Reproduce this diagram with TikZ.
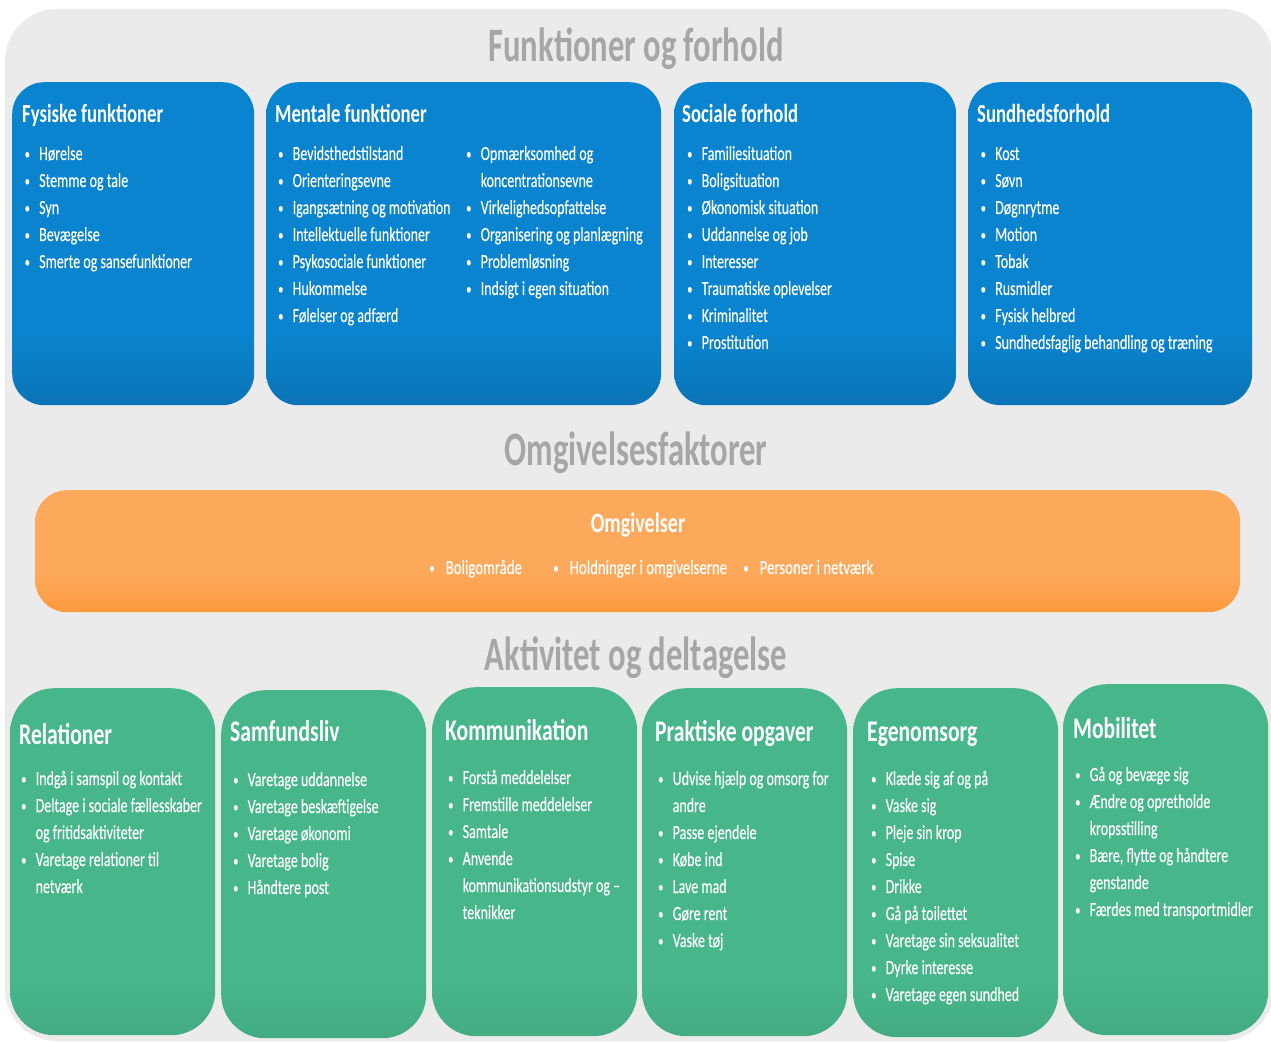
\documentclass[tikz,border=0pt]{standalone}
\usepackage{fontspec}
\setmainfont{Carlito}[FakeStretch=0.72]
\newfontfamily\titlefont{Carlito}[FakeStretch=0.68]
\newfontfamily\itemfont{Carlito}[FakeStretch=0.70, FakeBold=0.25]
\newfontfamily\oitemfont{Carlito}[FakeStretch=0.74, FakeBold=0.2]
\usepackage{array}
\definecolor{bgc}{HTML}{EBEBEB}
\definecolor{ttl}{HTML}{A6A6A6}
\definecolor{bluetop}{HTML}{0A84CE}
\definecolor{bluebot}{HTML}{0A4F80}
\definecolor{ortop}{HTML}{FDA95C}
\definecolor{orbot}{HTML}{FE8410}
\definecolor{grtop}{HTML}{47B68A}
\definecolor{grbot}{HTML}{388A67}
\pgfdeclareverticalshading{blueV}{100bp}{color(0bp)=(bluebot); color(36bp)=(bluetop); color(100bp)=(bluetop)}
\pgfdeclareverticalshading{orV}{100bp}{color(0bp)=(orbot); color(42bp)=(ortop); color(100bp)=(ortop)}
\pgfdeclareverticalshading{grV}{100bp}{color(0bp)=(grbot); color(33bp)=(grtop); color(100bp)=(grtop)}
\newcommand\bl{\raisebox{1pt}{\scalebox{0.75}{•}}}
\newcommand\itemsenv[1]{\begin{tabular}[t]{@{}p{14.5pt}@{}l@{}}#1\end{tabular}}
\begin{document}
\begin{tikzpicture}[x=1pt,y=-1pt,
  bigtitle/.style={text=ttl, font=\titlefont\fontsize{48}{52}\selectfont\bfseries, anchor=base, inner sep=0},
  bluebox/.style={shading=blueV, rounded corners=32, minimum width=#1, minimum height=323, anchor=north west, inner sep=0, draw=none},
  greenbox/.style={shading=grV, rounded corners=44, minimum width=205, minimum height=#1, anchor=north west, inner sep=0, draw=none},
  boxtitle/.style={text=white, font=\fontsize{26}{30}\selectfont\bfseries, anchor=base west, inner sep=0},
  gtitle/.style={text=white, font=\fontsize{30}{34}\selectfont\bfseries, anchor=base west, inner sep=0},
  items/.style={text=white, font=\itemfont\fontsize{20}{27}\selectfont, anchor=base west, inner sep=0},
  oitem/.style={text=white, font=\oitemfont\fontsize{20}{22}\selectfont, anchor=base west, inner sep=0}]
\useasboundingbox (0,0) rectangle (1271,1043);
\fill[bgc, rounded corners=52] (5,9) rectangle (1274,1041);

% top section
\node[bigtitle] (t1) at (636,62) {Funktioner og forhold};
\node[bluebox=242] (b1) at (12,82) {};
\node[bluebox=395] (b2) at (266,82) {};
\node[bluebox=282] (b3) at (674,82) {};
\node[bluebox=284] (b4) at (968,82) {};
\node[boxtitle] (b1t) at (22,123) {Fysiske funktioner};
\node[boxtitle] (b2t) at (275,123) {Mentale funktioner};
\node[boxtitle] (b3t) at (682,123) {Sociale forhold};
\node[boxtitle] (b4t) at (977,123) {Sundhedsforhold};
\node[items] (b1i) at (24.5,160) {\itemsenv{\bl&Hørelse\\ \bl&Stemme og tale\\ \bl&Syn\\ \bl&Bevægelse\\ \bl&Smerte og sansefunktioner}};
\node[items] (b2i) at (278,160) {\itemsenv{\bl&Bevidsthedstilstand\\ \bl&Orienteringsevne\\ \bl&Igangsætning og motivation\\ \bl&Intellektuelle funktioner\\ \bl&Psykosociale funktioner\\ \bl&Hukommelse\\ \bl&Følelser og adfærd}};
\node[items] (b2j) at (466,160) {\itemsenv{\bl&Opmærksomhed og\\ &koncentrationsevne\\ \bl&Virkelighedsopfattelse\\ \bl&Organisering og planlægning\\ \bl&Problemløsning\\ \bl&Indsigt i egen situation}};
\node[items] (b3i) at (687,160) {\itemsenv{\bl&Familiesituation\\ \bl&Boligsituation\\ \bl&Økonomisk situation\\ \bl&Uddannelse og job\\ \bl&Interesser\\ \bl&Traumatiske oplevelser\\ \bl&Kriminalitet\\ \bl&Prostitution}};
\node[items] (b4i) at (980.5,160) {\itemsenv{\bl&Kost\\ \bl&Søvn\\ \bl&Døgnrytme\\ \bl&Motion\\ \bl&Tobak\\ \bl&Rusmidler\\ \bl&Fysisk helbred\\ \bl&Sundhedsfaglig behandling og træning}};

% middle section
\node[bigtitle] (t2) at (636,465) {Omgivelsesfaktorer};
\node[shading=orV, rounded corners=32, minimum width=1205, minimum height=122, anchor=north west, inner sep=0] (ob) at (35,490) {};
\node[text=white, font=\fontsize{28}{32}\selectfont\bfseries, anchor=base, inner sep=0] (obt) at (638,532) {Omgivelser};
\node[oitem] (o1) at (429,574) {\bl\hspace{11pt}Boligområde};
\node[oitem] (o2) at (553,574) {\bl\hspace{11pt}Holdninger i omgivelserne};
\node[oitem] (o3) at (743,574) {\bl\hspace{11pt}Personer i netværk};

% bottom section
\node[bigtitle] (t3) at (636,670) {Aktivitet og deltagelse};
\node[greenbox=347] (g1) at (10,688) {};
\node[greenbox=348] (g2) at (221,690) {};
\node[greenbox=349] (g3) at (432,687) {};
\node[greenbox=348] (g4) at (642,688) {};
\node[greenbox=349] (g5) at (853,688) {};
\node[greenbox=351] (g6) at (1063,684) {};
\node[gtitle] (g1t) at (19,744) {Relationer};
\node[gtitle] (g2t) at (230,741) {Samfundsliv};
\node[gtitle] (g3t) at (445,740) {Kommunikation};
\node[gtitle] (g4t) at (655,741) {Praktiske opgaver};
\node[gtitle] (g5t) at (867,741) {Egenomsorg};
\node[gtitle] (g6t) at (1073,738) {Mobilitet};
\node[items] (g1i) at (21,785) {\itemsenv{\bl&Indgå i samspil og kontakt\\ \bl&Deltage i sociale fællesskaber\\ &og fritidsaktiviteter\\ \bl&Varetage relationer til\\ &netværk}};
\node[items] (g2i) at (233,786) {\itemsenv{\bl&Varetage uddannelse\\ \bl&Varetage beskæftigelse\\ \bl&Varetage økonomi\\ \bl&Varetage bolig\\ \bl&Håndtere post}};
\node[items] (g3i) at (448,784) {\itemsenv{\bl&Forstå meddelelser\\ \bl&Fremstille meddelelser\\ \bl&Samtale\\ \bl&Anvende\\ &kommunikationsudstyr og –\\ &teknikker}};
\node[items] (g4i) at (658,785) {\itemsenv{\bl&Udvise hjælp og omsorg for\\ &andre\\ \bl&Passe ejendele\\ \bl&Købe ind\\ \bl&Lave mad\\ \bl&Gøre rent\\ \bl&Vaske tøj}};
\node[items] (g5i) at (871,785) {\itemsenv{\bl&Klæde sig af og på\\ \bl&Vaske sig\\ \bl&Pleje sin krop\\ \bl&Spise\\ \bl&Drikke\\ \bl&Gå på toilettet\\ \bl&Varetage sin seksualitet\\ \bl&Dyrke interesse\\ \bl&Varetage egen sundhed}};
\node[items] (g6i) at (1075,781) {\itemsenv{\bl&Gå og bevæge sig\\ \bl&Ændre og opretholde\\ &kropsstilling\\ \bl&Bære, flytte og håndtere\\ &genstande\\ \bl&Færdes med transportmidler}};
\end{tikzpicture}
\end{document}
